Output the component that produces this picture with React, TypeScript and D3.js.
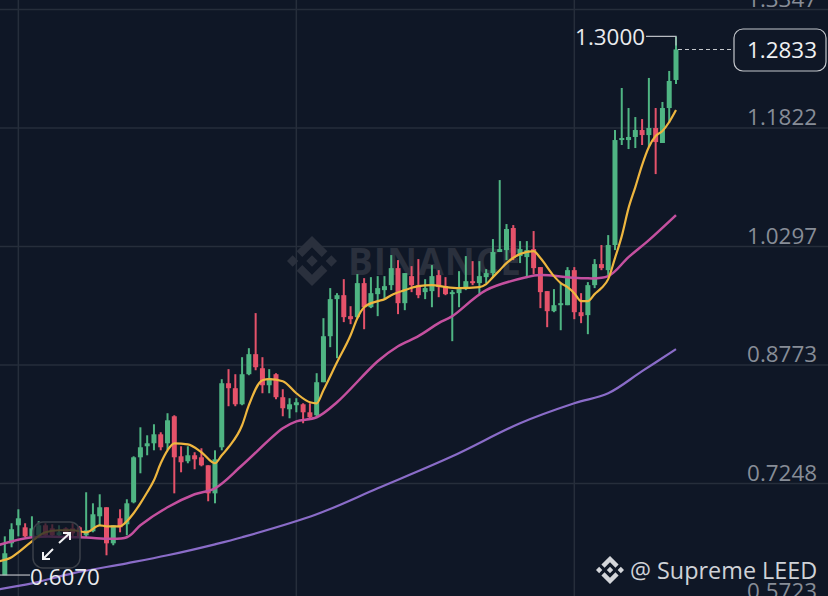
import React from 'react'
import * as d3 from 'd3'

// candles
const opens = [0.6066,0.6478,0.6710,0.6684,0.6568,0.6581,0.6710,0.6671,0.6581,0.6671,0.6671,0.6684,0.6581,0.6633,0.6826,0.6942,0.6478,0.6800,0.6723,0.7006,0.7585,0.7727,0.7765,0.7881,0.7765,0.8113,0.7598,0.7534,0.7611,0.7585,0.7482,0.7121,0.7714,0.8538,0.8474,0.8267,0.8654,0.8912,0.8731,0.8512,0.8654,0.8358,0.8203,0.8255,0.8267,0.8164,0.8126,0.8551,0.9143,0.9620,0.9671,0.9401,0.9388,0.9826,0.9516,0.9684,0.9736,0.9800,1.0019,0.9568,0.9916,0.9800,0.9710,0.9723,0.9929,0.9787,0.9697,0.9697,0.9749,0.9851,0.9826,0.9903,0.9955,1.0226,1.0251,1.0535,1.0174,1.0161,1.0264,1.0032,0.9723,0.9465,0.9542,0.9542,0.9993,0.9452,0.9414,0.9800,1.0071,0.9993,1.0316,1.1667,1.1667,1.1706,1.1796,1.1731,1.1822,1.1629,1.2079,1.2440]
const highs = [0.6568,0.6736,0.6916,0.6736,0.6826,0.6762,0.6736,0.6723,0.6710,0.6684,0.6736,0.6697,0.7135,0.6993,0.7109,0.6942,0.6710,0.6916,0.7045,0.7598,0.7971,0.7868,0.8010,0.7907,0.8152,0.8126,0.7727,0.7727,0.7650,0.7701,0.7482,0.7675,0.8590,0.8719,0.8654,0.8873,0.8989,0.9440,0.8873,0.8719,0.8667,0.8461,0.8345,0.8345,0.8280,0.8280,0.8667,0.9375,0.9762,0.9697,0.9877,0.9529,0.9942,0.9890,0.9903,0.9916,0.9916,1.0187,1.0122,0.9955,1.0045,1.0135,0.9877,1.0058,0.9993,0.9903,0.9736,0.9980,1.0174,1.0109,1.0109,1.0006,1.0393,1.1152,1.0586,1.0573,1.0367,1.0367,1.0496,1.0032,0.9723,0.9749,0.9826,1.0032,1.0032,0.9697,0.9839,1.0135,1.0316,1.0444,1.1796,1.2337,1.2079,1.1963,1.1937,1.2466,1.2079,1.2157,1.2556,1.3000]
const lows = [0.6070,0.6427,0.6568,0.6556,0.6556,0.6543,0.6556,0.6556,0.6568,0.6581,0.6568,0.6556,0.6556,0.6620,0.6710,0.6324,0.6453,0.6620,0.6581,0.6993,0.7379,0.7611,0.7675,0.7675,0.7675,0.7121,0.7392,0.7508,0.7431,0.7469,0.7019,0.6993,0.7675,0.8242,0.8242,0.8255,0.8641,0.8705,0.8409,0.8409,0.8332,0.8113,0.8087,0.8164,0.8023,0.8087,0.8100,0.8551,0.9002,0.8860,0.9324,0.9298,0.9375,0.9233,0.9504,0.9401,0.9607,0.9736,0.9427,0.9478,0.9710,0.9632,0.9620,0.9516,0.9645,0.9671,0.9079,0.9516,0.9736,0.9800,0.9671,0.9826,0.9903,1.0226,1.0122,1.0122,1.0084,0.9890,0.9942,0.9504,0.9259,0.9452,0.9220,0.9542,0.9362,0.9311,0.9169,0.9762,0.9993,0.9916,1.0251,1.1603,1.1551,1.1564,1.1603,1.1577,1.1229,1.1629,1.1886,1.2388]
const closes = [0.6350,0.6659,0.6800,0.6568,0.6671,0.6710,0.6581,0.6581,0.6620,0.6607,0.6607,0.6556,0.6646,0.6852,0.6942,0.6478,0.6710,0.6684,0.6993,0.7585,0.7714,0.7765,0.7881,0.7714,0.8061,0.7585,0.7521,0.7611,0.7559,0.7482,0.7121,0.7559,0.8538,0.8474,0.8267,0.8654,0.8912,0.8744,0.8512,0.8603,0.8358,0.8216,0.8267,0.8293,0.8164,0.8100,0.8551,0.9143,0.9620,0.9671,0.9388,0.9362,0.9826,0.9516,0.9697,0.9762,0.9787,1.0019,0.9568,0.9955,0.9800,0.9671,0.9762,0.9916,0.9775,0.9684,0.9710,0.9749,0.9851,0.9826,0.9916,0.9955,1.0226,1.0264,1.0522,1.0148,1.0264,1.0251,1.0019,0.9710,0.9465,0.9542,0.9568,0.9993,0.9452,0.9401,0.9800,1.0071,1.0019,1.0316,1.1667,1.1693,1.1706,1.1796,1.1731,1.1822,1.1641,1.2079,1.2427,1.2833]

const fastIndex = [-1,1,2,4,6,8,10,12,14,15,17,18,19,20,21,22,23,24,25,27,29,31,32,33,35,36,38,39,41,43,45,46,47,49,51,52,53,55,56,57,59,61,63,65,67,70,71,72,73,74,76,78,79,81,82,83,84,85,86,87,88,89,90,91,92,93,94,95,96,97,98,99]
const fastMa = [0.6246,0.6298,0.6362,0.6504,0.6620,0.6646,0.6646,0.6620,0.6710,0.6697,0.6697,0.6762,0.6865,0.6993,0.7135,0.7289,0.7508,0.7675,0.7765,0.7752,0.7650,0.7508,0.7611,0.7714,0.7997,0.8255,0.8577,0.8590,0.8564,0.8409,0.8293,0.8280,0.8448,0.8808,0.9156,0.9375,0.9516,0.9594,0.9620,0.9671,0.9736,0.9787,0.9800,0.9775,0.9762,0.9775,0.9813,0.9903,0.9993,1.0084,1.0200,1.0238,1.0148,0.9916,0.9826,0.9775,0.9697,0.9594,0.9594,0.9684,0.9762,0.9877,1.0148,1.0431,1.0791,1.1062,1.1345,1.1577,1.1719,1.1783,1.1899,1.2053]

const midIndex = [-1,4,11,18,20,24,28,31,35,41,43,46,49,55,58,61,64,66,71,77,79,85,89,92,95,99]
const midMa = [0.6453,0.6556,0.6556,0.6556,0.6710,0.6942,0.7109,0.7186,0.7482,0.7958,0.8048,0.8100,0.8293,0.8821,0.9014,0.9143,0.9311,0.9401,0.9736,0.9903,0.9929,0.9890,0.9916,1.0161,1.0380,1.0702]

const slowIndex = [-1,4,10,18,24,31,35,46,55,66,76,84,89,94,99]
const slowMa = [0.5886,0.5963,0.6092,0.6221,0.6324,0.6465,0.6556,0.6852,0.7186,0.7598,0.8023,0.8280,0.8409,0.8693,0.8976]

const priceTicks = [1.3347, 1.1822, 1.0297, 0.8773, 0.7248, 0.5723]
const timeTicks = [2, 43, 84]
const lastPrice = 1.2833
const highLabel = 1.3
const lowLabel = 0.607

const BG = '#0f1726'
const GRID = '#262e3b'
const UP = '#4fb583'
const DOWN = '#e5526a'
const FONT = '"Open Sans", "Noto Sans", sans-serif'

const LOGO_PATH =
  'M38.73 53.2l24.59-24.58 24.6 24.6 14.3-14.31L63.32 0 24.42 38.9zM0 63.31l14.3-14.31 14.31 14.31-14.31 14.3zM38.73 73.41l24.59 24.59 24.6-24.6 14.31 14.29-38.9 38.91-38.91-38.88zM98 63.31l14.3-14.31 14.31 14.3-14.31 14.32zM77.83 63.3L63.32 48.78 52.59 59.51l-1.24 1.23-2.54 2.54 14.51 14.5 14.51-14.47z'

const Logo = ({ x, y, size, fill }) => (
  <path d={LOGO_PATH} fill={fill} transform={`translate(${x},${y}) scale(${size / 126.6})`} />
)

const App = () => {
  const width = 828
  const height = 596

  const x = d3.scaleLinear().domain([0, 99]).range([4.8, 676])
  const y = d3.scaleLinear().domain([1.1822, 0.5723]).range([128, 602])

  const maLine = (index: number[], values: number[], curve) =>
    d3
      .line<number>()
      .x((_, i) => x(index[i]))
      .y((d) => y(d))
      .curve(curve)(values)

  const candles = opens.map((open, i) => {
    const close = closes[i]
    const color = close >= open ? UP : DOWN
    const top = y(Math.max(open, close))
    const bottom = y(Math.min(open, close))
    return (
      <g key={i}>
        <line x1={x(i)} x2={x(i)} y1={y(highs[i])} y2={y(lows[i])} stroke={color} strokeWidth={2} />
        <rect x={x(i) - 2.5} y={top} width={5} height={Math.max(bottom - top, 2)} fill={color} />
      </g>
    )
  })

  return (
    <svg
      width={width}
      height={height}
      style={{ position: 'absolute', left: 0, top: 0, display: 'block', background: BG }}
      fontFamily={FONT}
    >
      {priceTicks.map((t) => (
        <line key={t} x1={0} x2={width} y1={y(t)} y2={y(t)} stroke={GRID} strokeWidth={1.5} />
      ))}
      {timeTicks.map((t) => (
        <line key={t} x1={x(t)} x2={x(t)} y1={0} y2={height} stroke={GRID} strokeWidth={1.5} />
      ))}

      <Logo x={287} y={236} size={50} fill="#2a303d" />
      <text x={348} y={275} fontSize={37} fontWeight={700} fill="#2a303d" letterSpacing={1}>
        BINANCE
      </text>

      {priceTicks.map((t) => (
        <text key={t} x={817} y={y(t) - 11} dy="0.36em" textAnchor="end" fontSize={22.4} fill="#878d97">
          {t.toFixed(4)}
        </text>
      ))}

      <path d={maLine(slowIndex, slowMa, d3.curveCatmullRom)} fill="none" stroke="#8a6cc8" strokeWidth={2.2} />
      {candles}
      <path d={maLine(midIndex, midMa, d3.curveCatmullRom)} fill="none" stroke="#c4509f" strokeWidth={2.5} />
      <path d={maLine(fastIndex, fastMa, d3.curveMonotoneX)} fill="none" stroke="#eeb63f" strokeWidth={2.2} />

      {/* high / low markers */}
      <path
        d={`M${x(99)},${y(highLabel) + 9}V${y(highLabel)}H646`}
        fill="none"
        stroke="#b9bcc2"
        strokeWidth={1.2}
      />
      <text x={645} y={y(highLabel)} dy="0.36em" textAnchor="end" fontSize={22.4} fill="#e9ebee">
        {highLabel.toFixed(4)}
      </text>
      <line x1={0} x2={30} y1={y(lowLabel)} y2={y(lowLabel)} stroke="#b9bcc2" strokeWidth={1.2} />
      <text x={30} y={y(lowLabel) + 2} dy="0.36em" fontSize={22.4} fill="#e9ebee">
        {lowLabel.toFixed(4)}
      </text>

      {/* last price */}
      <line
        x1={x(99) + 2}
        x2={734}
        y1={y(lastPrice)}
        y2={y(lastPrice)}
        stroke="#c4c7cc"
        strokeWidth={1.1}
        strokeDasharray="4 3"
      />
      <rect x={734} y={29} width={92} height={42} rx={9} fill={BG} stroke="#c4c7cc" strokeWidth={1.2} />
      <text x={782} y={50} dy="0.36em" textAnchor="middle" fontSize={22.4} fill="#f0f1f3">
        {lastPrice.toFixed(4)}
      </text>

      {/* fullscreen button */}
      <rect x={33} y={522} width={47} height={46} rx={10} fill="#0f1726" fillOpacity={0.72} stroke="#3b4049" strokeWidth={1.5} />
      <path
        d="M43,559L53,549M43,552V559H50M59,543L70,533M63,533H70V540"
        fill="none"
        stroke="#f2f3f5"
        strokeWidth={2}
      />

      {/* credit */}
      <Logo x={596} y={556} size={28} fill="#d4d6da" />
      <text x={630} y={579} fontSize={23.4} fill="#cfd2d7">
        @ Supreme LEED
      </text>
    </svg>
  )
}

export default App
